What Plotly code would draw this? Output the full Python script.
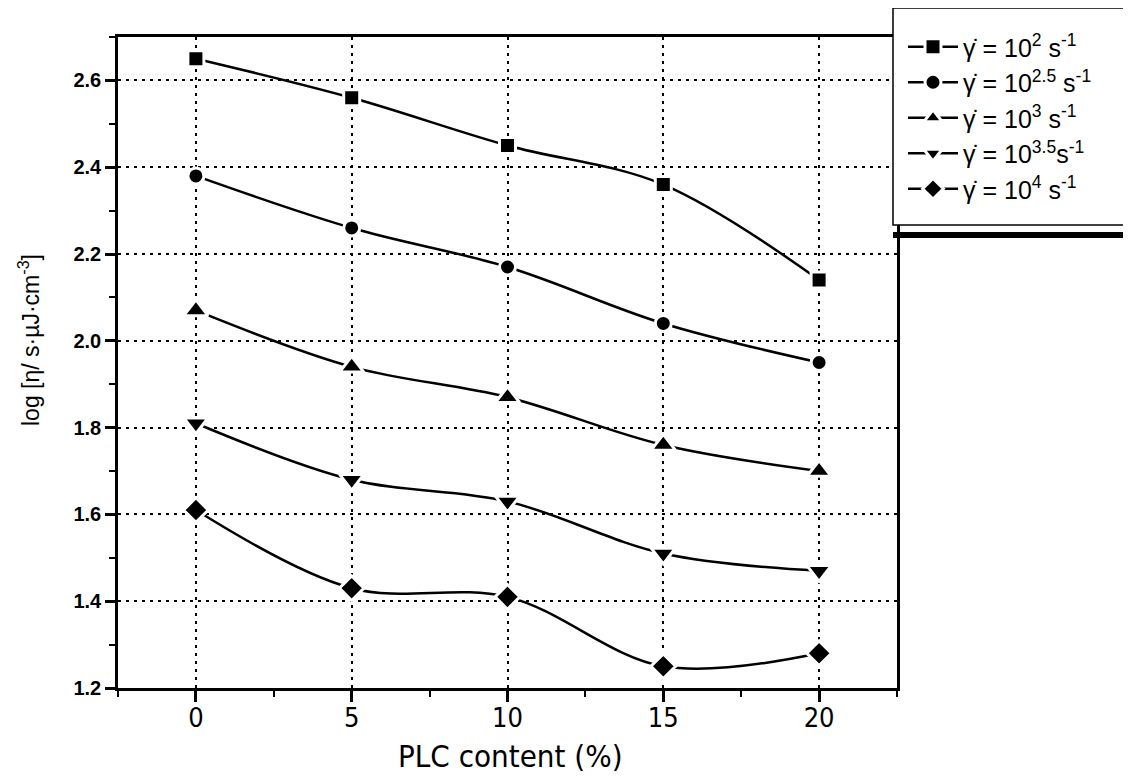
import plotly.graph_objects as go

plc = [0, 5, 10, 15, 20]
rate_2 = [2.65, 2.56, 2.45, 2.36, 2.14]
rate_25 = [2.38, 2.26, 2.17, 2.04, 1.95]
rate_3 = [2.07, 1.94, 1.87, 1.76, 1.70]
rate_35 = [1.81, 1.68, 1.63, 1.51, 1.47]
rate_4 = [1.61, 1.43, 1.41, 1.25, 1.28]

names = [
    "\u03b3\u0307 = 10<sup>2</sup> s<sup>-1</sup>",
    "\u03b3\u0307 = 10<sup>2.5</sup> s<sup>-1</sup>",
    "\u03b3\u0307 = 10<sup>3</sup> s<sup>-1</sup>",
    "\u03b3\u0307 = 10<sup>3.5</sup>s<sup>-1</sup>",
    "\u03b3\u0307 = 10<sup>4</sup> s<sup>-1</sup>",
]
series = [rate_2, rate_25, rate_3, rate_35, rate_4]
symbols = ["square", "circle", "triangle-up", "triangle-down", "diamond"]
sizes = [16, 16, 21, 21, 19]
x_title = "PLC content (%)"
y_title = "log [\u03b7/ s\u00b7\u00b5J\u00b7cm<sup>-3</sup>]"

# the page has an 8px body margin; figure pixel = screen pixel - 8
OFF = 8
W, H = 1123, 767
PL, PR, PT, PB = 118 - OFF, 897 - OFF, 37 - OFF, 688 - OFF
L, R, T, B = PL, W - PR, PT, H - PB
pw, ph = PR - PL, PB - PT


def px_x(sx):
    return (sx - OFF - PL) / pw


def px_y(sy):
    return (PB - (sy - OFF)) / ph


fig = go.Figure()
for i, (ys, nm, sym, sz) in enumerate(zip(series, names, symbols, sizes)):
    fig.add_trace(go.Scatter(
        x=plc, y=ys, name=nm, mode="lines+markers",
        line=dict(color="black", width=2.5, shape="spline", smoothing=1.0),
        marker=dict(symbol=sym, size=sz, color="black",
                    line=dict(color="white", width=3)),
        legendgroup=f"g{i}",
    ))

grid_dash = "3px,5px"
narrow = "DejaVu Sans Condensed, Liberation Sans Narrow, Liberation Sans"
fig.update_layout(
    width=W, height=H,
    margin=dict(l=L, r=R, t=T, b=B, autoexpand=False),
    paper_bgcolor="white", plot_bgcolor="white",
    font=dict(family="Liberation Sans, Arial, sans-serif", color="black"),
    showlegend=True,
    legend=dict(
        x=px_x(903), y=px_y(24), xanchor="left", yanchor="top",
        bgcolor="rgba(0,0,0,0)", borderwidth=0,
        font=dict(size=25, family="Liberation Sans, Arial, sans-serif"),
        tracegroupgap=0, itemwidth=50,
    ),
    xaxis=dict(
        range=[-2.5, 22.5], tickvals=[0, 5, 10, 15, 20],
        showline=True, linecolor="black", linewidth=2.5, mirror=True,
        ticks="outside", ticklen=11, tickwidth=2.5, tickcolor="black",
        minor=dict(dtick=2.5, tick0=0, ticks="outside", ticklen=6,
                   tickwidth=2, tickcolor="black", showgrid=False),
        showgrid=True, gridcolor="black", gridwidth=2, griddash=grid_dash,
        zeroline=False, ticklabelstandoff=-7,
        tickfont=dict(size=27, family=narrow),
    ),
    yaxis=dict(
        range=[1.2, 2.7], dtick=0.2, tick0=1.2, tickformat=".1f",
        showline=True, linecolor="black", linewidth=2.5, mirror=True,
        ticks="outside", ticklen=10, tickwidth=2.5, tickcolor="black",
        minor=dict(dtick=0.1, tick0=1.2, ticks="outside", ticklen=6,
                   tickwidth=2, tickcolor="black", showgrid=False),
        showgrid=True, gridcolor="black", gridwidth=2, griddash=grid_dash,
        zeroline=False,
        tickfont=dict(size=20, weight="bold"),
    ),
    annotations=[
        dict(text=y_title, xref="paper", yref="paper",
             x=px_x(29), y=px_y(340), xanchor="center", yanchor="middle",
             textangle=-90, showarrow=False, font=dict(size=23)),
        dict(text=x_title, xref="paper", yref="paper",
             x=px_x(510), y=px_y(756), xanchor="center", yanchor="middle",
             showarrow=False, font=dict(size=31, family=narrow)),
    ],
    shapes=[
        dict(type="rect", xref="paper", yref="paper",
             x0=px_x(893), x1=px_x(1131), y0=px_y(238), y1=px_y(232),
             fillcolor="black", line=dict(width=0), layer="above"),
        dict(type="rect", xref="paper", yref="paper",
             x0=px_x(893), x1=px_x(1129), y0=px_y(225), y1=px_y(8),
             fillcolor="white", line=dict(color="black", width=1.5), layer="above"),
    ],
)

fig.write_html("out.html")
